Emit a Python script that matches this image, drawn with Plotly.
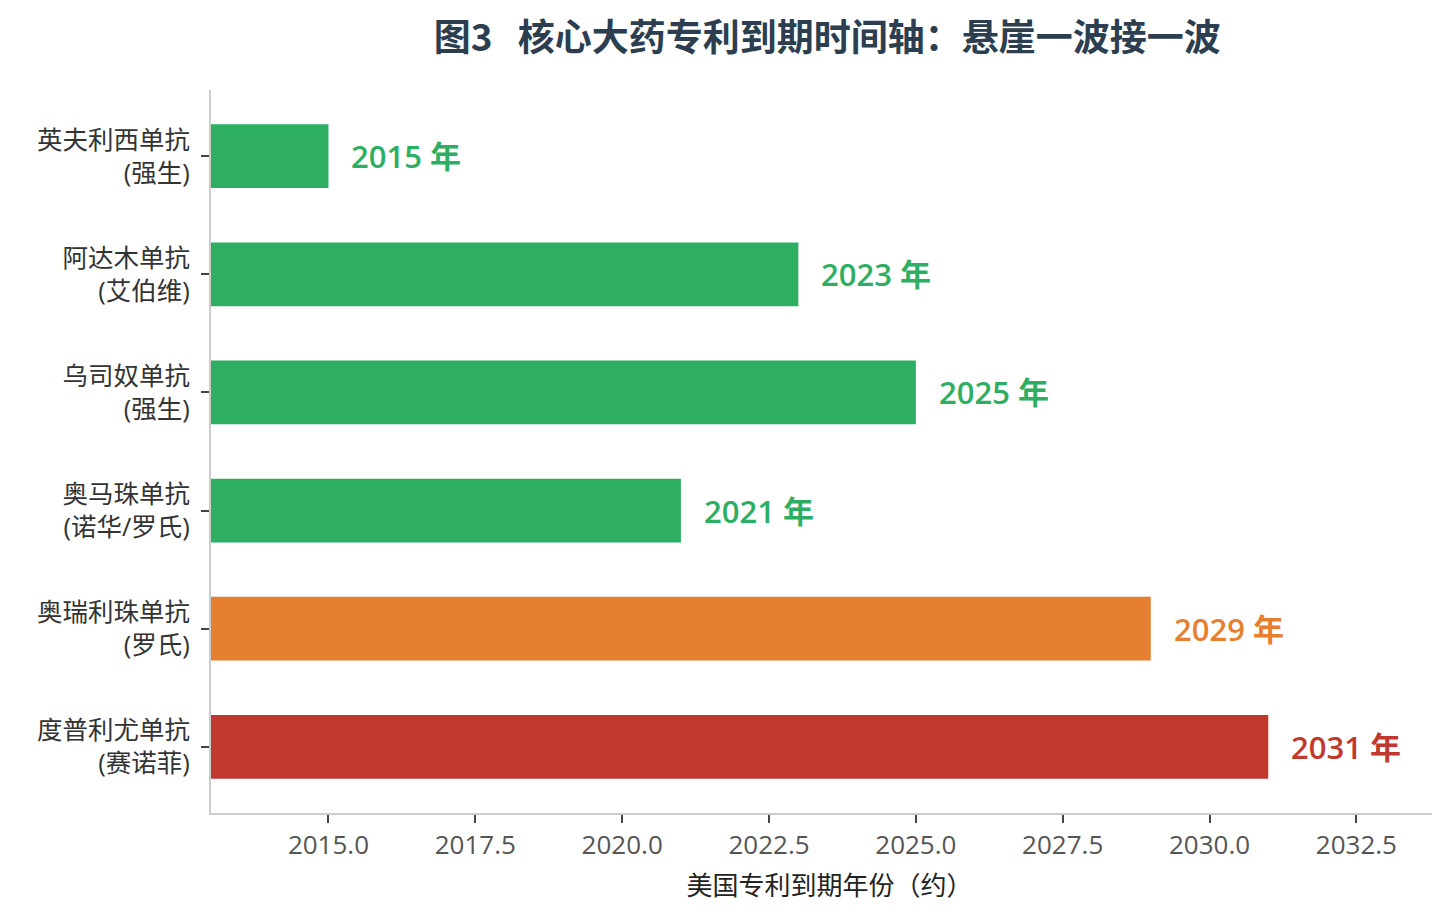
import plotly.graph_objects as go

# 药品名称、公司与美国专利到期年份（约）
drugs = ["英夫利西单抗", "阿达木单抗", "乌司奴单抗", "奥马珠单抗", "奥瑞利珠单抗", "度普利尤单抗"]
companies = ["强生", "艾伯维", "强生", "诺华/罗氏", "罗氏", "赛诺菲"]
expiry_years = [2015, 2023, 2025, 2021, 2029, 2031]
bar_colors = ["#2eae62", "#2eae62", "#2eae62", "#2eae62", "#e67f30", "#c0392f"]

FONT = "'Open Sans', 'Noto Sans CJK SC', sans-serif"

labels = [f"{d}<br>({c})" for d, c in zip(drugs, companies)]

fig = go.Figure()

fig.add_trace(go.Bar(
    x=expiry_years,
    y=labels,
    orientation="h",
    marker=dict(color=bar_colors, line=dict(width=0)),
    hovertemplate="%{y}: %{x}<extra></extra>",
))

# 柱末端的年份标注
for lab, yr, col in zip(labels, expiry_years, bar_colors):
    fig.add_annotation(
        x=yr, y=lab,
        text=f"{yr} 年",
        showarrow=False,
        xanchor="left",
        xshift=21,
        font=dict(family=FONT, size=31, color=col, weight=600),
    )

# 页面 body 自带 8px 边距，这里的边距已扣除
fig.update_layout(
    width=1440,
    height=913,
    margin=dict(l=203, r=0, t=82, b=108),
    paper_bgcolor="white",
    plot_bgcolor="white",
    bargap=0.46,
    showlegend=False,
    title=dict(
        text="图3\u00a0\u00a0\u00a0核心大药专利到期时间轴：悬崖一波接一波",
        x=0.569, xanchor="center",
        y=0.967, yanchor="middle",
        font=dict(family="'Noto Sans CJK SC', sans-serif", size=37,
                  color="#2c3e50", weight="bold"),
    ),
    font=dict(family=FONT),
)

fig.update_xaxes(
    range=[2013, 2034.06],
    tick0=2015, dtick=2.5,
    tickformat=".1f",
    ticks="outside", ticklen=8, tickwidth=2, tickcolor="#444",
    showline=True, linecolor="#cccccc", linewidth=2,
    showgrid=False, zeroline=False,
    tickfont=dict(family=FONT, size=26, color="#555555"),
    title=dict(text="美国专利到期年份（约）",
               font=dict(family=FONT, size=26, color="#222222"),
               standoff=16),
)

fig.update_yaxes(
    categoryorder="array",
    categoryarray=labels,
    range=[5.56, -0.56],
    ticks="outside", ticklen=8, tickwidth=2, tickcolor="#444",
    ticklabelstandoff=6,
    showline=True, linecolor="#cccccc", linewidth=2,
    showgrid=False, zeroline=False,
    tickfont=dict(family=FONT, size=25.5, color="#333333"),
)

fig.write_html("out.html")
